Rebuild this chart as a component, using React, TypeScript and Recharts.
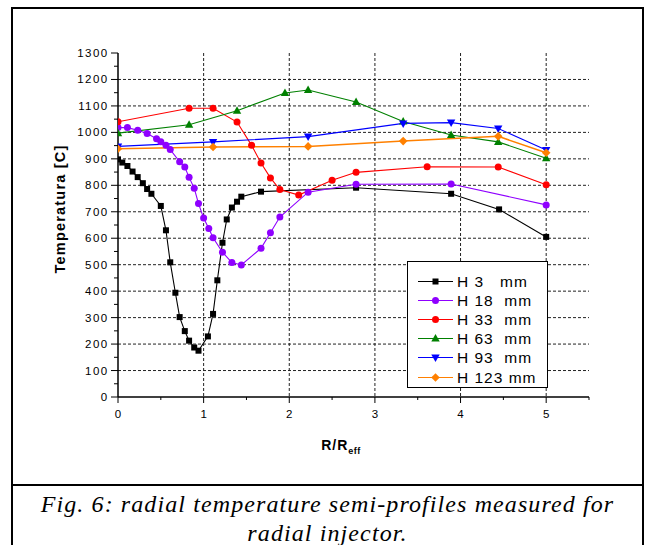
import React from 'react';
import { LineChart, Line, XAxis, YAxis, CartesianGrid, Legend } from 'recharts';

// ---- data ----
const H3_R = [0, 0.05, 0.11, 0.17, 0.23, 0.29, 0.34, 0.39, 0.5, 0.56, 0.61, 0.67, 0.72, 0.78, 0.83, 0.89, 0.94, 1.05, 1.11, 1.16, 1.22, 1.27, 1.33, 1.39, 1.44, 1.67, 2.78, 3.89, 4.45, 5.0];
const H3_T = [898, 886, 873, 852, 831, 808, 786, 768, 722, 630, 509, 394, 302, 249, 213, 187, 175, 229, 314, 441, 583, 671, 716, 738, 757, 776, 791, 768, 709, 605];

const H18_R = [0, 0.11, 0.23, 0.34, 0.45, 0.5, 0.56, 0.61, 0.72, 0.78, 0.83, 0.89, 0.94, 1.0, 1.06, 1.11, 1.22, 1.33, 1.44, 1.67, 1.78, 1.89, 2.22, 2.78, 3.89, 5.0];
const H18_T = [1018, 1018, 1008, 996, 976, 965, 951, 935, 889, 869, 830, 789, 731, 676, 637, 602, 547, 508, 499, 562, 621, 680, 774, 804, 805, 726];

const H33_R = [0, 0.83, 1.11, 1.39, 1.56, 1.67, 1.78, 1.89, 2.11, 2.5, 2.78, 3.61, 4.44, 5.0];
const H33_T = [1040, 1091, 1091, 1039, 951, 884, 828, 784, 763, 819, 849, 870, 869, 802];

const H63_R = [0, 0.83, 1.39, 1.95, 2.22, 2.78, 3.33, 3.89, 4.44, 5.0];
const H63_T = [997, 1029, 1082, 1149, 1160, 1115, 1041, 990, 964, 902];

const H93_R = [0, 1.11, 2.22, 3.33, 3.89, 4.44, 5.0];
const H93_T = [947, 964, 984, 1034, 1037, 1015, 933];

const H123_R = [0, 1.11, 2.22, 3.33, 4.44, 5.0];
const H123_T = [938, 945, 947, 967, 985, 923];

const SERIES_NAMES = ['H 3   mm', 'H 18  mm', 'H 33  mm', 'H 63  mm', 'H 93  mm', 'H 123 mm'];

const Y_MAJOR = [0, 100, 200, 300, 400, 500, 600, 700, 800, 900, 1000, 1100, 1200, 1300];
const Y_MINOR = [50, 150, 250, 350, 450, 550, 650, 750, 850, 950, 1050, 1150, 1250];
const X_MAJOR = [0, 1, 2, 3, 4, 5];
const X_MINOR = [0.5, 1.5, 2.5, 3.5, 4.5, 5.5];
const GRID_Y = [100, 200, 300, 400, 500, 600, 700, 800, 900, 1000, 1100, 1200];
const GRID_X = [1, 2, 3, 4, 5];

const zip = (r: number[], t: number[]) => r.map((x, i) => ({ x, y: t[i] }));

const SERIES = [
  { name: SERIES_NAMES[0], color: '#000000', shape: 'square', data: zip(H3_R, H3_T) },
  { name: SERIES_NAMES[1], color: '#8F00FF', shape: 'circle', data: zip(H18_R, H18_T) },
  { name: SERIES_NAMES[2], color: '#FF0000', shape: 'circle', data: zip(H33_R, H33_T) },
  { name: SERIES_NAMES[3], color: '#008000', shape: 'up', data: zip(H63_R, H63_T) },
  { name: SERIES_NAMES[4], color: '#0000FF', shape: 'down', data: zip(H93_R, H93_T) },
  { name: SERIES_NAMES[5], color: '#FF8000', shape: 'diamond', data: zip(H123_R, H123_T) },
];

const SANS = '"Liberation Sans", Arial, sans-serif';
const SERIF = '"Liberation Serif", "Times New Roman", serif';

function Marker({ shape, cx, cy, color }: { shape: string; cx: number; cy: number; color: string }) {
  switch (shape) {
    case 'square':
      return <rect x={cx - 3} y={cy - 3} width={6} height={6} fill={color} />;
    case 'circle':
      return <circle cx={cx} cy={cy} r={3.5} fill={color} />;
    case 'up':
      return <polygon points={`${cx},${cy - 4.5} ${cx + 4.2},${cy + 3} ${cx - 4.2},${cy + 3}`} fill={color} />;
    case 'down':
      return <polygon points={`${cx},${cy + 4.5} ${cx + 4.2},${cy - 3} ${cx - 4.2},${cy - 3}`} fill={color} />;
    case 'diamond':
      return <polygon points={`${cx},${cy - 4.3} ${cx + 4.3},${cy} ${cx},${cy + 4.3} ${cx - 4.3},${cy}`} fill={color} />;
    default:
      return null;
  }
}

const YTick = (props: any) => {
  const { x, y, payload } = props;
  const v = payload.value;
  const major = Y_MAJOR.includes(v);
  return (
    <g>
      <line x1={x} x2={x - (major ? 7 : 4)} y1={y} y2={y} stroke="#000" strokeWidth={1} />
      {major && (
        <text x={x - 9.5} y={y} dy={4} textAnchor="end" fontFamily={SANS} fontSize={11.5} letterSpacing={1.4} fill="#000">
          {v}
        </text>
      )}
    </g>
  );
};

const XTick = (props: any) => {
  const { x, y, payload } = props;
  const v = payload.value;
  const major = X_MAJOR.includes(v);
  return (
    <g>
      <line x1={x} x2={x} y1={y} y2={y + (major ? 6 : 3)} stroke="#000" strokeWidth={1} />
      {major && (
        <text x={x + 0.7} y={y + 21} textAnchor="middle" fontFamily={SANS} fontSize={11.5} letterSpacing={1.4} fill="#000">
          {v}
        </text>
      )}
    </g>
  );
};

const LegendBox = () => (
  <div
    style={{
      width: 139,
      height: 115,
      border: '1px solid #000',
      background: '#fff',
      boxSizing: 'content-box',
      paddingTop: 10,
      fontFamily: SANS,
      fontSize: 15.5,
      letterSpacing: 1,
      color: '#000',
    }}
  >
    {SERIES.map((s) => (
      <div key={s.name} style={{ height: 19.1, display: 'flex', alignItems: 'center' }}>
        <svg width={49} height={19} style={{ display: 'block', flex: 'none' }}>
          <line x1={10} x2={45} y1={9.5} y2={9.5} stroke={s.color} strokeWidth={1} />
          <Marker shape={s.shape} cx={27.5} cy={9.5} color={s.color} />
        </svg>
        <span style={{ whiteSpace: 'pre', lineHeight: '19px' }}>{s.name}</span>
      </div>
    ))}
  </div>
);

export default function App() {
  return (
    <div style={{ position: 'absolute', left: 0, top: 0, width: 646, height: 545, background: '#fff', overflow: 'hidden' }}>
      <div
        style={{
          position: 'absolute',
          left: 11,
          top: 7,
          width: 629,
          height: 560,
          borderLeft: '2px solid #000',
          borderRight: '2px solid #000',
          borderTop: '2px solid #000',
        }}
      />
      <div style={{ position: 'absolute', left: 11, top: 484, width: 633, height: 2, background: '#000' }} />

      <div style={{ position: 'absolute', left: 0, top: 0 }}>
        <LineChart width={646} height={545} margin={{ top: 53, right: 57, left: 58, bottom: 118 }}>
          <CartesianGrid
            horizontalValues={GRID_Y}
            verticalValues={GRID_X}
            stroke="#222"
            strokeWidth={1}
            strokeDasharray="3 2"
          />
          <XAxis
            type="number"
            dataKey="x"
            domain={[0, 5.5]}
            ticks={[...X_MAJOR, ...X_MINOR].sort((a, b) => a - b)}
            interval={0}
            tickSize={0}
            tickMargin={0}
            tickLine={false}
            tick={<XTick />}
            axisLine={{ stroke: '#000', strokeWidth: 1.5 }}
            height={30}
            allowDataOverflow
          />
          <YAxis
            type="number"
            dataKey="y"
            domain={[0, 1300]}
            ticks={[...Y_MAJOR, ...Y_MINOR].sort((a, b) => a - b)}
            interval={0}
            tickSize={0}
            tickMargin={0}
            tickLine={false}
            tick={<YTick />}
            axisLine={{ stroke: '#000', strokeWidth: 1.5 }}
            width={60}
            allowDataOverflow
          />
          {SERIES.map((s) => (
            <Line
              key={s.name}
              data={s.data}
              dataKey="y"
              name={s.name}
              type="linear"
              stroke={s.color}
              strokeWidth={s.shape === 'diamond' ? 1.5 : 1.1}
              isAnimationActive={false}
              dot={(p: any) => (
                <g key={s.name + p.index}>
                  <Marker shape={s.shape} cx={p.cx} cy={p.cy} color={s.color} />
                </g>
              )}
              activeDot={false}
            />
          ))}
          <Legend
            layout="vertical"
            align="center"
            verticalAlign="middle"
            content={() => <LegendBox />}
            wrapperStyle={{ position: 'absolute', left: 407, top: 261, width: 141, height: 127 }}
          />
        </LineChart>
      </div>

      <div
        style={{
          position: 'absolute',
          left: 60,
          top: 209,
          transform: 'translate(-50%, -50%) rotate(-90deg)',
          whiteSpace: 'nowrap',
          fontFamily: SANS,
          fontWeight: 'bold',
          fontSize: 14.5,
          letterSpacing: 1.2,
          lineHeight: '14px',
        }}
      >
        Temperatura [C]
      </div>

      <div
        style={{
          position: 'absolute',
          left: 341,
          top: 438,
          transform: 'translateX(-50%)',
          whiteSpace: 'nowrap',
          fontFamily: SANS,
          fontWeight: 'bold',
          fontSize: 14,
          letterSpacing: 1,
          lineHeight: '14px',
        }}
      >
        R/R<sub style={{ fontSize: 9, letterSpacing: 0.5, verticalAlign: '-4px' }}>eff</sub>
      </div>

      <div
        style={{
          position: 'absolute',
          left: 13,
          top: 490,
          width: 629,
          textAlign: 'center',
          fontFamily: SERIF,
          fontStyle: 'italic',
          fontSize: 24,
          lineHeight: '29px',
          letterSpacing: 1.1,
          color: '#000',
        }}
      >
        Fig. 6: radial temperature semi-profiles measured for
        <br />
        radial injector.
      </div>
    </div>
  );
}
